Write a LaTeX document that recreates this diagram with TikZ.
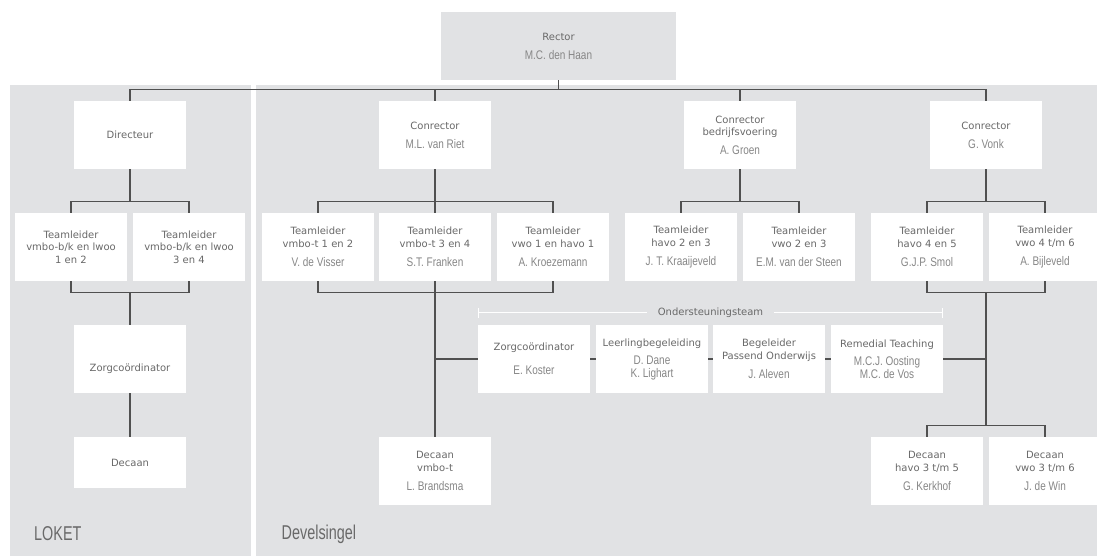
\documentclass[tikz,border=0pt]{standalone}
\usepackage{fontspec}
\newfontfamily\tfont{DejaVu Sans}
\newfontfamily\nfont[FakeStretch=0.8]{Liberation Sans}
\newfontfamily\pfont[FakeStretch=0.72]{Liberation Sans}
\definecolor{panel}{RGB}{225,226,228}
\definecolor{linec}{RGB}{80,80,80}
\definecolor{titlec}{RGB}{105,105,105}
\definecolor{namec}{RGB}{135,135,135}
\pgfdeclarelayer{panels}
\pgfdeclarelayer{conns}
\pgfsetlayers{panels,conns,main}
\newcommand\nm{\color{namec}\nfont\fontsize{12.5}{12.5}\selectfont}
\tikzset{
  box/.style={fill=white, minimum width=112pt, minimum height=68pt, inner sep=0pt,
    align=center, text=titlec, font=\tfont\fontsize{10}{12.5}\selectfont},
  shortbox/.style={box, minimum height=51pt},
  rectorbox/.style={box, fill=panel, minimum width=235pt},
  conn/.style={draw=linec, line width=1.2pt},
  teamline/.style={draw=white, line width=1.2pt},
  panellabel/.style={anchor=west, inner sep=0pt, text=titlec, font=\pfont\fontsize{20}{22}\selectfont},
  teamlabel/.style={fill=panel, inner xsep=11pt, inner ysep=2pt, text=titlec, font=\tfont\fontsize{10}{12.5}\selectfont}
}
\begin{document}
\begin{tikzpicture}[x=1pt,y=-1pt]
\useasboundingbox (0,0) rectangle (1097,556);
\begin{pgfonlayer}{panels}
  \fill[panel] (10,85) rectangle (250.7,560);
  \fill[panel] (256,85) rectangle (1100,560);
\end{pgfonlayer}

% top
\node[rectorbox] (rector) at (558.5,46) {Rector\\[6.5pt]\nm M.C. den Haan};

% level 1
\node[box] (dir)  at (130,135) {Directeur};
\node[box] (con1) at (435,135) {Conrector\\[6.5pt]\nm M.L. van Riet};
\node[box] (con2) at (740,135) {Conrector\\bedrijfsvoering\\[6pt]\nm A. Groen};
\node[box] (con3) at (986,135) {Conrector\\[6.5pt]\nm G. Vonk};

% teamleiders
\node[box] (tl1) at (71,247)   {Teamleider\\vmbo-b/k en lwoo\\1 en 2};
\node[box] (tl2) at (189,247)  {Teamleider\\vmbo-b/k en lwoo\\3 en 4};
\node[box] (tl3) at (318,247)  {Teamleider\\vmbo-t 1 en 2\\[6.5pt]\nm V. de Visser};
\node[box] (tl4) at (435,247)  {Teamleider\\vmbo-t 3 en 4\\[6.5pt]\nm S.T. Franken};
\node[box] (tl5) at (553,247)  {Teamleider\\vwo 1 en havo 1\\[6.5pt]\nm A. Kroezemann};
\node[box] (tl6) at (681,247)  {Teamleider\\havo 2 en 3\\[6.5pt]\nm J. T. Kraaijeveld};
\node[box] (tl7) at (799,247)  {Teamleider\\vwo 2 en 3\\[6.5pt]\nm E.M. van der Steen};
\node[box] (tl8) at (927,247)  {Teamleider\\havo 4 en 5\\[6.5pt]\nm G.J.P. Smol};
\node[box] (tl9) at (1045,247) {Teamleider\\vwo 4 t/m 6\\[6.5pt]\nm A. Bijleveld};

% LOKET lower
\node[box, text height=27pt, text depth=2pt] (zorgL) at (130,359) {Zorgco\"ordinator};
\node[shortbox] (decL) at (130,462.5) {Decaan};

% ondersteuningsteam
\node[box] (ond1) at (534,359) {Zorgco\"ordinator\\[12pt]\nm E. Koster};
\node[box] (ond2) at (652,359) {Leerlingbegeleiding\\[6pt]\nm D. Dane\\\nm K. Lighart};
\node[box] (ond3) at (769,359) {Begeleider\\Passend Onderwijs\\[6.5pt]\nm J. Aleven};
\node[box] (ond4) at (887,359) {Remedial Teaching\\[6pt]\nm M.C.J. Oosting\\\nm M.C. de Vos};
\node[teamlabel] (ondlab) at (710.5,312.5) {Ondersteuningsteam};

% decanen
\node[box] (dec1) at (435,471)  {Decaan\\vmbo-t\\[6.5pt]\nm L. Brandsma};
\node[box] (dec2) at (927,471)  {Decaan\\havo 3 t/m 5\\[6.5pt]\nm G. Kerkhof};
\node[box] (dec3) at (1045,471) {Decaan\\vwo 3 t/m 6\\[6.5pt]\nm J. de Win};

% panel labels
\node[panellabel] (loket) at (34,534) {LOKET};
\node[panellabel] (devel) at (281.5,534) {Develsingel};

\begin{pgfonlayer}{conns}
  % rector to level 1
  \draw[conn] (rector.south) -- ++(0,10);
  \draw[conn] (dir.north) -- ++(0,-11) -| (con3.north);
  \draw[conn] (con1.north) -- ++(0,-11);
  \draw[conn] (con2.north) -- ++(0,-11);
  % LOKET
  \draw[conn] (dir.south) -- ++(0,33);
  \draw[conn] (tl1.north) -- ++(0,-11) -| (tl2.north);
  \draw[conn] (tl1.south) -- ++(0,11) -| (tl2.south);
  \draw[conn] (zorgL.north) -- ++(0,-33);
  \draw[conn] (zorgL) -- (decL);
  % M.L. van Riet
  \draw[conn] (con1) -- (dec1);
  \draw[conn] (tl3.north) -- ++(0,-11) -| (tl5.north);
  \draw[conn] (tl3.south) -- ++(0,11) -| (tl5.south);
  % ondersteuningsteam link
  \draw[conn] (con1 |- ond1) -- (con3 |- ond4);
  % bedrijfsvoering
  \draw[conn] (con2.south) -- ++(0,33);
  \draw[conn] (tl6.north) -- ++(0,-11) -| (tl7.north);
  % G. Vonk
  \draw[conn] (con3.south) -- ++(0,33);
  \draw[conn] (tl8.north) -- ++(0,-11) -| (tl9.north);
  \draw[conn] (tl8.south) -- ++(0,11) -| (tl9.south);
  \draw[conn] ([yshift=-11pt]con3 |- tl8.south) -- ([yshift=11pt]con3 |- dec2.north);
  \draw[conn] (dec2.north) -- ++(0,-11) -| (dec3.north);
  % team line
  \coordinate (oL) at ([xshift=1pt,yshift=12pt]ond1.north west);
  \coordinate (oR) at ([xshift=-1pt,yshift=12pt]ond4.north east);
  \draw[teamline] (oL) -- (oR);
  \draw[teamline] (oL) ++(0,-5) -- ++(0,10);
  \draw[teamline] (oR) ++(0,-5) -- ++(0,10);
\end{pgfonlayer}
\end{tikzpicture}
\end{document}
